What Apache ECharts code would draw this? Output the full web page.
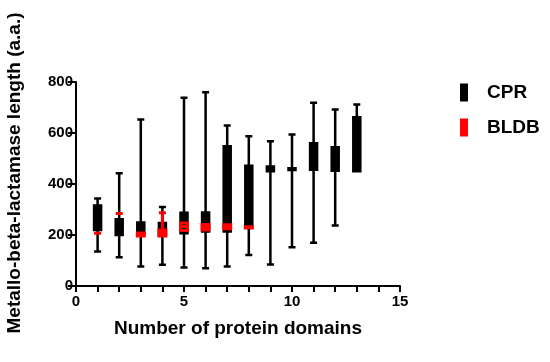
<!DOCTYPE html>
<html>
<head>
<meta charset="utf-8">
<script src="https://cdn.jsdelivr.net/npm/echarts@6/dist/echarts.min.js"></script>
<style>html,body{margin:0;padding:0;background:#fff;}#c{width:550px;height:362px;}</style>
</head>
<body>
<div id="c"></div>
<script>
// CPR boxes (number of protein domains -> length stats)
var cprX   = [1, 2, 3, 4, 5, 6, 7, 8, 9, 10, 11, 12, 13];
var cprMin = [135, 113, 76, 83, 73, 70, 76, 122, 84, 152, 170, 237, 450];
var cprQ1  = [220, 200, 207, 200, 207, 214, 214, 227, 450, 455, 456, 452, 450];
var cprMed = [265, 240, 227, 214, 243, 249, 354, 450, 460, 459, 456, 452, 564];
var cprQ3  = [316, 262, 249, 247, 287, 288, 548, 472, 469, 462, 560, 544, 662];
var cprMax = [343, 442, 653, 310, 738, 760, 629, 587, 568, 594, 719, 692, 712];
// BLDB boxes
var bldbX   = [1, 2, 3, 4, 5, 6, 7, 8];
var bldbMin = [207, 284, 196, 196, 218, 220, 225, 228];
var bldbQ1  = [207, 284, 196, 196, 218, 220, 225, 228];
var bldbMed = [207, 284, 203, 208, 233, 230, 232, 230];
var bldbQ3  = [207, 284, 208, 220, 247, 241, 240, 232];
var bldbMax = [207, 284, 208, 287, 247, 241, 240, 232];
var xTicks = [0, 5, 10, 15];
var yTicks = [0, 200, 400, 600, 800];

function build(xs, mn, q1, md, q3, mx) {
  return xs.map(function (x, i) { return [x, mn[i], q1[i], md[i], q3[i], mx[i]]; });
}

var chart = echarts.init(document.getElementById('c'));
var font = 'Liberation Sans, Arial, sans-serif';
chart.setOption({
  animation: false,
  grid: { left: 76, right: 150, top: 82, bottom: 76 },
  legend: {
    orient: 'vertical', left: 455, top: 78, itemWidth: 8, itemHeight: 18, itemGap: 16,
    icon: 'rect',
    textStyle: { fontFamily: font, fontWeight: 'bold', fontSize: 19, color: '#000', padding: [0, 0, 0, 14] },
    data: [
      { name: 'CPR', itemStyle: { color: '#000', borderColor: '#000', borderWidth: 0 } },
      { name: 'BLDB', itemStyle: { color: '#ff0000', borderColor: '#ff0000', borderWidth: 0 } }
    ]
  },
  xAxis: [{
    type: 'value', min: 0, max: 15, interval: 5,
    name: 'Number of protein domains', nameLocation: 'middle', nameGap: 33,
    nameTextStyle: { fontFamily: font, fontWeight: 'bold', fontSize: 19, color: '#000' },
    axisLine: { lineStyle: { color: '#000', width: 2 } },
    axisTick: { length: 6, lineStyle: { color: '#000', width: 2 } },
    minorTick: { show: true, splitNumber: 5, length: 6, lineStyle: { color: '#000', width: 2 } },
    axisLabel: { fontFamily: font, fontWeight: 'bold', fontSize: 15, color: '#000', margin: 8,
      formatter: function (v) { return xTicks.indexOf(v) >= 0 ? String(v) : ''; } },
    splitLine: { show: false }
  }, {
    type: 'value', min: 0, max: 15, interval: 5, position: 'bottom', show: false,
    splitLine: { show: false }
  }],
  yAxis: {
    type: 'value', min: 0, max: 800, interval: 200,
    axisLine: { show: true, lineStyle: { color: '#000', width: 2 } },
    axisTick: { show: true, length: 8, lineStyle: { color: '#000', width: 2 } },
    axisLabel: { fontFamily: font, fontWeight: 'bold', fontSize: 15, color: '#000', margin: 3,
      formatter: function (v) { return yTicks.indexOf(v) >= 0 ? String(v) : ''; } },
    splitLine: { show: false }
  },
  graphic: [{
    type: 'text', x: 15, y: 173, rotation: Math.PI / 2,
    style: { text: 'Metallo-beta-lactamase length (a.a.)', fontFamily: font, fontWeight: 'bold',
      fontSize: 19, fill: '#000', align: 'center', verticalAlign: 'middle' }
  }],
  series: [
    {
      name: 'CPR', type: 'boxplot', xAxisIndex: 0, boxWidth: [7, 7],
      itemStyle: { color: '#000', borderColor: '#000', borderWidth: 2.5 },
      data: build(cprX, cprMin, cprQ1, cprMed, cprQ3, cprMax)
    },
    {
      name: 'BLDB', type: 'boxplot', xAxisIndex: 1, boxWidth: [7, 7],
      itemStyle: { color: 'rgba(0,0,0,0)', borderColor: '#ff0000', borderWidth: 3 },
      data: build(bldbX, bldbMin, bldbQ1, bldbMed, bldbQ3, bldbMax)
    }
  ]
});
</script>
</body>
</html>
